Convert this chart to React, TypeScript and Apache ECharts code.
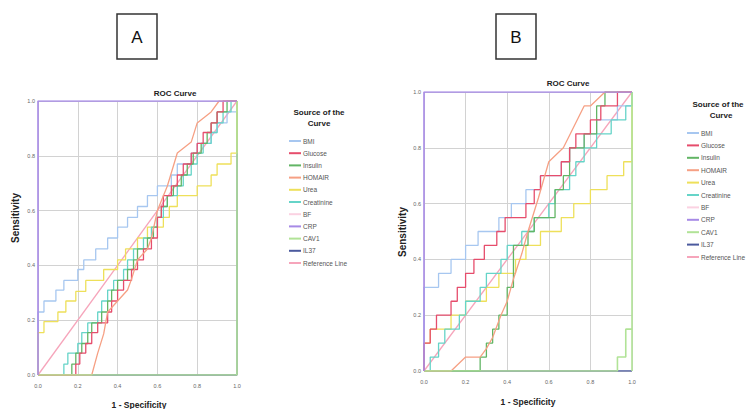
import React, { useEffect, useRef } from "react";
import * as echarts from "echarts";

type Pt = [number, number];

const legendNames = ["BMI", "Glucose", "Insulin", "HOMAIR", "Urea", "Creatinine", "BF", "CRP", "CAV1", "IL37", "Reference Line"];
const tickValues = [0, 0.2, 0.4, 0.6, 0.8, 1.0];

const colors: Record<string, string> = {
  BMI: "#a7c7f0",
  Glucose: "#e64d6c",
  Insulin: "#62b565",
  HOMAIR: "#f6a084",
  Urea: "#eee05a",
  Creatinine: "#66d4c8",
  BF: "#fbd2e2",
  CRP: "#a78ae6",
  CAV1: "#b1e397",
  IL37: "#4b5a9e",
  "Reference Line": "#f6a5bb",
};

// ---- Chart A ----
const bmiA: Pt[] = [[0,0],[0,0.23],[0.03,0.27],[0.09,0.31],[0.13,0.345],[0.2,0.385],[0.23,0.42],[0.29,0.46],[0.35,0.5],[0.4,0.54],[0.45,0.575],[0.5,0.615],[0.55,0.655],[0.6,0.69],[0.67,0.73],[0.7,0.77],[0.77,0.81],[0.8,0.845],[0.87,0.885],[0.9,0.92],[0.95,0.96],[1,0.96],[1,1]];
const glucoseA: Pt[] = [[0,0],[0.19,0],[0.19,0.04],[0.21,0.08],[0.24,0.115],[0.27,0.155],[0.3,0.19],[0.35,0.23],[0.37,0.27],[0.4,0.31],[0.43,0.345],[0.47,0.385],[0.5,0.42],[0.53,0.46],[0.57,0.5],[0.6,0.54],[0.6,0.575],[0.62,0.615],[0.63,0.655],[0.67,0.69],[0.7,0.73],[0.73,0.77],[0.77,0.81],[0.8,0.845],[0.83,0.885],[0.87,0.92],[0.9,0.96],[0.93,1],[1,1]];
const insulinA: Pt[] = [[0,0],[0.17,0],[0.17,0.04],[0.19,0.08],[0.22,0.115],[0.25,0.155],[0.27,0.19],[0.32,0.23],[0.35,0.27],[0.37,0.31],[0.4,0.345],[0.45,0.385],[0.48,0.42],[0.5,0.46],[0.55,0.5],[0.58,0.54],[0.6,0.575],[0.62,0.615],[0.65,0.655],[0.68,0.69],[0.72,0.73],[0.75,0.77],[0.78,0.81],[0.82,0.845],[0.85,0.885],[0.87,0.92],[0.9,0.96],[0.95,1],[1,1]];
const homairA: Pt[] = [[0,0],[0.27,0],[0.3,0.08],[0.33,0.15],[0.35,0.23],[0.4,0.27],[0.45,0.31],[0.47,0.35],[0.5,0.42],[0.55,0.46],[0.57,0.5],[0.6,0.6],[0.65,0.69],[0.7,0.81],[0.77,0.85],[0.8,0.92],[0.87,0.96],[0.91,1],[1,1]];
const ureaA: Pt[] = [[0,0],[0,0.155],[0.03,0.195],[0.1,0.23],[0.14,0.27],[0.19,0.305],[0.24,0.345],[0.33,0.385],[0.4,0.42],[0.44,0.46],[0.5,0.5],[0.55,0.54],[0.63,0.575],[0.66,0.615],[0.7,0.655],[0.8,0.69],[0.87,0.73],[0.9,0.77],[0.97,0.81],[1,0.81],[1,1]];
const creatinineA: Pt[] = [[0,0],[0.13,0],[0.13,0.04],[0.15,0.08],[0.2,0.115],[0.22,0.155],[0.25,0.19],[0.3,0.23],[0.32,0.27],[0.35,0.31],[0.38,0.345],[0.43,0.385],[0.45,0.42],[0.48,0.46],[0.53,0.5],[0.57,0.54],[0.6,0.575],[0.63,0.615],[0.65,0.655],[0.7,0.69],[0.73,0.73],[0.77,0.77],[0.8,0.81],[0.83,0.845],[0.87,0.885],[0.9,0.92],[0.93,0.96],[0.97,1],[1,1]];
const bfA: Pt[] = [];
const crpA: Pt[] = [[0,0],[0,1],[1,1]];
const cav1A: Pt[] = [[0,0],[1,0],[1,1]];
const il37A: Pt[] = [[0,0],[1,0],[1,1]];
const refA: Pt[] = [[0,0],[1,1]];

// ---- Chart B ----
const bmiB: Pt[] = [[0,0],[0,0.3],[0.07,0.35],[0.13,0.4],[0.2,0.45],[0.26,0.5],[0.36,0.55],[0.42,0.6],[0.49,0.65],[0.56,0.7],[0.66,0.75],[0.7,0.8],[0.77,0.85],[0.83,0.9],[0.93,0.95],[1,0.95],[1,1]];
const glucoseB: Pt[] = [[0,0],[0,0.1],[0.03,0.15],[0.06,0.2],[0.13,0.25],[0.16,0.3],[0.2,0.35],[0.24,0.4],[0.29,0.45],[0.35,0.5],[0.39,0.55],[0.49,0.6],[0.53,0.65],[0.56,0.7],[0.66,0.75],[0.7,0.8],[0.73,0.85],[0.8,0.9],[0.85,0.95],[0.93,1],[1,1]];
const insulinB: Pt[] = [[0,0],[0.27,0],[0.27,0.05],[0.3,0.1],[0.33,0.15],[0.36,0.2],[0.4,0.25],[0.4,0.3],[0.43,0.4],[0.43,0.45],[0.5,0.5],[0.53,0.55],[0.6,0.55],[0.63,0.6],[0.63,0.65],[0.67,0.7],[0.7,0.75],[0.7,0.8],[0.77,0.85],[0.83,0.9],[0.83,0.95],[0.87,1],[1,1]];
const homairB: Pt[] = [[0,0],[0.13,0],[0.2,0.05],[0.27,0.05],[0.3,0.08],[0.33,0.12],[0.37,0.2],[0.4,0.25],[0.43,0.33],[0.47,0.42],[0.5,0.5],[0.55,0.62],[0.6,0.75],[0.67,0.8],[0.77,0.95],[0.8,0.95],[0.87,1],[1,1]];
const ureaB: Pt[] = [[0,0],[0,0.1],[0.03,0.15],[0.13,0.2],[0.2,0.25],[0.3,0.3],[0.36,0.35],[0.44,0.4],[0.49,0.45],[0.56,0.5],[0.66,0.55],[0.72,0.6],[0.8,0.65],[0.88,0.7],[0.96,0.75],[1,0.75],[1,1]];
const creatinineB: Pt[] = [[0,0],[0.03,0.05],[0.07,0.1],[0.1,0.15],[0.17,0.2],[0.2,0.25],[0.27,0.3],[0.3,0.35],[0.37,0.4],[0.4,0.45],[0.47,0.5],[0.53,0.55],[0.6,0.6],[0.63,0.65],[0.7,0.7],[0.73,0.75],[0.77,0.8],[0.83,0.85],[0.9,0.9],[0.97,0.95],[1,1]];
const bfB: Pt[] = [];
const crpB: Pt[] = [[0,0],[0,1],[1,1]];
const cav1B: Pt[] = [[0,0],[0.93,0],[0.93,0.05],[0.97,0.05],[0.97,0.15],[1,0.15],[1,1]];
const il37B: Pt[] = [[0,0],[1,0]];
const insulinEdgeB: Pt[] = [[1,0],[1,0.15]];
const refB: Pt[] = [[0,0],[1,1]];

const stepped: Record<string, boolean> = { BMI: true, Glucose: true, Insulin: true, Urea: true, Creatinine: true, BF: true };

const drawOrder = ["Reference Line", "IL37", "BF", "BMI", "Urea", "Creatinine", "Insulin", "Glucose", "HOMAIR", "CAV1", "CRP"];

const dataA: Record<string, Pt[]> = { BMI: bmiA, Glucose: glucoseA, Insulin: insulinA, HOMAIR: homairA, Urea: ureaA, Creatinine: creatinineA, BF: bfA, CRP: crpA, CAV1: cav1A, IL37: il37A, "Reference Line": refA };
const dataB: Record<string, Pt[]> = { BMI: bmiB, Glucose: glucoseB, Insulin: insulinB, HOMAIR: homairB, Urea: ureaB, Creatinine: creatinineB, BF: bfB, CRP: crpB, CAV1: cav1B, IL37: il37B, "Reference Line": refB };

const FONT = "'Liberation Sans', Arial, sans-serif";

function lineSeries(name: string, idx: number, data: Pt[]) {
  return {
    type: "line",
    name,
    xAxisIndex: idx,
    yAxisIndex: idx,
    data,
    step: stepped[name] ? "end" : false,
    showSymbol: false,
    symbol: "none",
    silent: true,
    color: colors[name],
    lineStyle: { color: colors[name], width: name === "CRP" || name === "CAV1" ? 1.6 : 1.3 },
    z: 3,
  };
}

function makeSeries(data: Record<string, Pt[]>, idx: number) {
  return drawOrder.map((name) => lineSeries(name, idx, data[name]));
}

function axis(idx: number, isY: boolean) {
  return {
    type: "value",
    gridIndex: idx,
    min: 0,
    max: 1,
    interval: 0.2,
    axisLine: { show: false },
    axisTick: { show: false },
    splitLine: { show: true, lineStyle: { color: "#d2d2d2", width: 1 } },
    axisLabel: {
      fontSize: 5.5,
      color: "#666",
      fontFamily: FONT,
      margin: isY ? 3 : 8,
      formatter: (v: number) => (tickValues.some((t) => Math.abs(t - v) < 1e-9) ? v.toFixed(1) : ""),
    },
  };
}

function legend(left: number, top: number, gap: number) {
  return {
    orient: "vertical",
    left,
    top,
    padding: 0,
    itemWidth: 12,
    itemHeight: 2,
    itemGap: gap,
    icon: "rect",
    selectedMode: false,
    data: legendNames,
    textStyle: { fontSize: 6.5, lineHeight: 8, color: "#555", fontFamily: FONT, padding: [0, 0, 0, -3] },
  };
}

function txt(x: number, y: number, text: string, size: number, bold: boolean, rotation = 0, color = "#222") {
  return {
    type: "text",
    x,
    y,
    rotation,
    silent: true,
    style: {
      text,
      fontSize: size,
      fontWeight: bold ? "bold" : "normal",
      fontFamily: FONT,
      fill: color,
      textAlign: "center",
      textVerticalAlign: "middle",
    },
  };
}

export default function App() {
  const ref = useRef<HTMLDivElement>(null);
  useEffect(() => {
    if (!ref.current) return;
    const chart = echarts.init(ref.current, undefined, { renderer: "svg" });
    chart.setOption({
      animation: false,
      backgroundColor: "#ffffff",
      grid: [
        { left: 38, top: 101, width: 199, height: 274 },
        { left: 424, top: 92, width: 208, height: 279 },
      ],
      xAxis: [axis(0, false), axis(1, false)],
      yAxis: [axis(0, true), axis(1, true)],
      legend: [legend(289, 137, 4.2), legend(687, 129, 4.4)],
      series: [
        ...makeSeries(dataA, 0),
        ...makeSeries(dataB, 1),
        { ...lineSeries("CAV1", 1, insulinEdgeB), step: false },
      ],
      graphic: [
        { type: "rect", shape: { x: 117, y: 14, width: 40, height: 45 }, style: { fill: "none", stroke: "#333", lineWidth: 1.5 } },
        txt(137, 37, "A", 17, false, 0, "#111"),
        { type: "rect", shape: { x: 496, y: 14, width: 40, height: 45 }, style: { fill: "none", stroke: "#333", lineWidth: 1.5 } },
        txt(516, 37, "B", 17, false, 0, "#111"),
        txt(175, 93, "ROC Curve", 8, true),
        txt(568, 83, "ROC Curve", 8, true),
        txt(15, 218, "Sensitivity", 10, true, Math.PI / 2),
        txt(402, 232, "Sensitivity", 10, true, Math.PI / 2),
        txt(139, 405, "1 - Specificity", 8.5, true),
        txt(528, 402, "1 - Specificity", 8.5, true),
        txt(319, 112, "Source of the", 8, true),
        txt(319, 123, "Curve", 8, true),
        txt(718, 104, "Source of the", 8, true),
        txt(721, 115, "Curve", 8, true),
      ],
    });
    return () => chart.dispose();
  }, []);
  return (
    <div
      ref={ref}
      style={{ position: "fixed", left: 0, top: 0, width: 748, height: 409, background: "#fff" }}
    />
  );
}
